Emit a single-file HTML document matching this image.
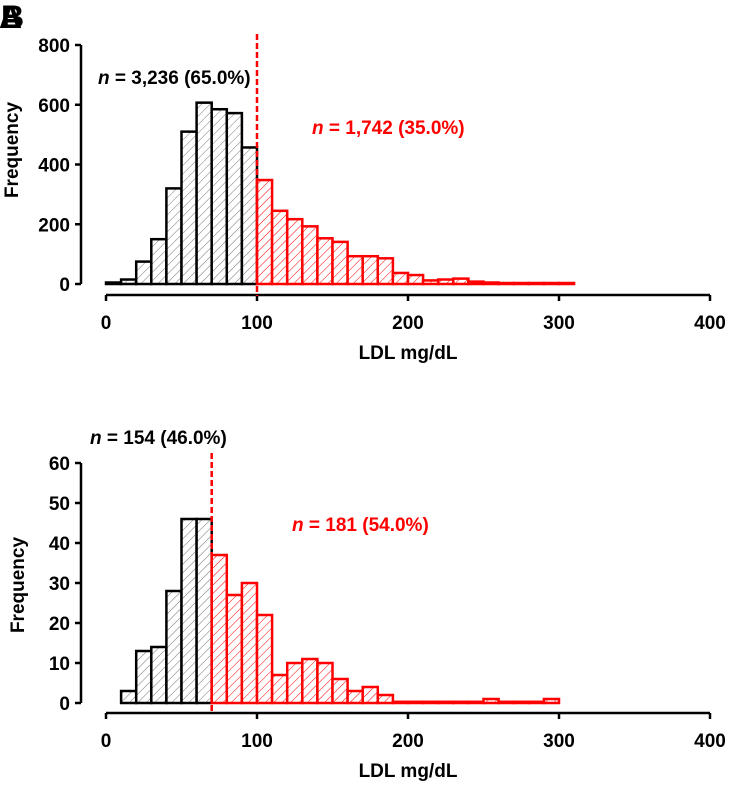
<!DOCTYPE html>
<html><head><meta charset="utf-8"><style>
body{margin:0;background:#fff;}
svg text{font-family:"Liberation Sans",Arial,sans-serif;font-weight:bold;}
</style></head><body>
<svg width="730" height="787" viewBox="0 0 730 787" xmlns="http://www.w3.org/2000/svg">
<defs>
<pattern id="hk" width="6" height="6" patternUnits="userSpaceOnUse" patternTransform="rotate(45)"><rect width="6" height="6" fill="#fff"/><line x1="0" y1="0" x2="0" y2="6" stroke="#777" stroke-width="1"/></pattern>
<pattern id="hr" width="6" height="6" patternUnits="userSpaceOnUse" patternTransform="rotate(45)"><rect width="6" height="6" fill="#fff"/><line x1="0" y1="0" x2="0" y2="6" stroke="#f00" stroke-width="1"/></pattern>
</defs>
<text x="-1" y="28" font-size="32" fill="#000">A</text>
<text x="1" y="28" font-size="32" fill="#000">B</text>
<g id="top"></g>
<g id="bot"></g>
</svg>
<script>
// Top chart data (bins of 10 mg/dL starting at 0)
const topBinStarts = [0,10,20,30,40,50,60,70,80,90,100,110,120,130,140,150,160,170,180,190,200,210,220,230,240,250,260,270,280,290,300];
const topCounts = [5,15,75,150,320,510,607,585,572,457,348,245,217,193,153,141,93,93,86,37,30,12,15,18,8,5,1,1,1,1,1];
const topYTicks = [0,200,400,600,800];
const xTicks = [0,100,200,300,400];
const topCut = 100;
// Bottom chart data
const botBinStarts = [10,20,30,40,50,60,70,80,90,100,110,120,130,140,150,160,170,180,190,200,210,220,230,240,250,260,270,280,290];
const botCounts = [3,13,14,28,46,46,37,27,30,22,7,10,11,10,6,3,4,2,0.3,0.3,0.3,0.3,0.3,0.3,1,0.3,0.3,0.3,1];
const botYTicks = [0,10,20,30,40,50,60];
const botCut = 70;

const NS="http://www.w3.org/2000/svg";
function mk(parent,tag,attrs,txt){const e=document.createElementNS(NS,tag);for(const k in attrs)e.setAttribute(k,attrs[k]);if(txt!==undefined)e.textContent=txt;parent.appendChild(e);return e;}

function drawChart(g,cfg){
  const sx=v=>106+v*1.51;
  const sy=v=>cfg.y0-(v/cfg.ymax)*(cfg.y0-cfg.ytop);
  const ya=mk(g,'line',{x1:81,y1:cfg.ytop,x2:81,y2:cfg.y0,stroke:'#000','stroke-width':2.5});
  
  
  cfg.yt.forEach(t=>{
    const tk=mk(g,'line',{x1:75,y1:sy(t),x2:81,y2:sy(t),stroke:'#000','stroke-width':2.5});
    
    
    const lb=mk(g,'text',{x:70,y:sy(t)+7,'font-size':19,'text-anchor':'end'},String(t));
    
    
  });
  const xa=mk(g,'line',{x1:106,y1:cfg.xAxisY,x2:710,y2:cfg.xAxisY,stroke:'#000','stroke-width':2.5});
  
  
  xTicks.forEach(t=>{
    const tk=mk(g,'line',{x1:sx(t),y1:cfg.xAxisY,x2:sx(t),y2:cfg.xAxisY+6,stroke:'#000','stroke-width':2.5});
    
    
    const lb=mk(g,'text',{x:sx(t),y:cfg.xAxisY+34,'font-size':19,'text-anchor':'middle'},String(t));
    
    
  });
  const xt=mk(g,'text',{x:408,y:cfg.xAxisY+64,'font-size':19,'text-anchor':'middle'},'LDL mg/dL');
  
  
  const yl=mk(g,'text',{x:0,y:0,'font-size':19,'text-anchor':'middle',transform:`translate(${cfg.ytX},${cfg.ytY}) rotate(-90)`},'Frequency');
  
  
  cfg.starts.forEach((s,i)=>{
    const red=s>=cfg.cut;
    const v=cfg.counts[i];
    const h=Math.max(sy(0)-sy(v),1);
    const r=mk(g,'rect',{x:sx(s),y:sy(0)-h,width:sx(s+10)-sx(s),height:h,fill:red?'url(#hr)':'url(#hk)',stroke:red?'#f00':'#000','stroke-width':2.5});
    
    
  });
  const cl=mk(g,'line',{x1:sx(cfg.cut),y1:cfg.cutTop,x2:sx(cfg.cut),y2:cfg.xAxisY+1,stroke:'#f00','stroke-width':2.5,'stroke-dasharray':'6,3'});
  
  
  const a1=mk(g,'text',{x:cfg.l1x,y:cfg.l1y,'font-size':19,fill:'#000'});
  
  
  mk(a1,'tspan',{'font-style':'italic'},'n');mk(a1,'tspan',{},' = '+cfg.l1);
  const a2=mk(g,'text',{x:cfg.l2x,y:cfg.l2y,'font-size':19,fill:'#f00'});
  
  
  mk(a2,'tspan',{'font-style':'italic'},'n');mk(a2,'tspan',{},' = '+cfg.l2);
}
drawChart(document.getElementById('top'),{starts:topBinStarts,counts:topCounts,yt:topYTicks,ymax:800,y0:284,ytop:45,xAxisY:295,cut:topCut,cutTop:34,ytX:18,ytY:150,l1x:98,l1y:84,l1:'3,236 (65.0%)',l2x:312,l2y:134,l2:'1,742 (35.0%)'});
drawChart(document.getElementById('bot'),{starts:botBinStarts,counts:botCounts,yt:botYTicks,ymax:60,y0:703,ytop:463,xAxisY:713,cut:botCut,cutTop:453,ytX:24,ytY:585,l1x:90,l1y:444,l1:'154 (46.0%)',l2x:292,l2y:531,l2:'181 (54.0%)'});
</script>
</body></html>
